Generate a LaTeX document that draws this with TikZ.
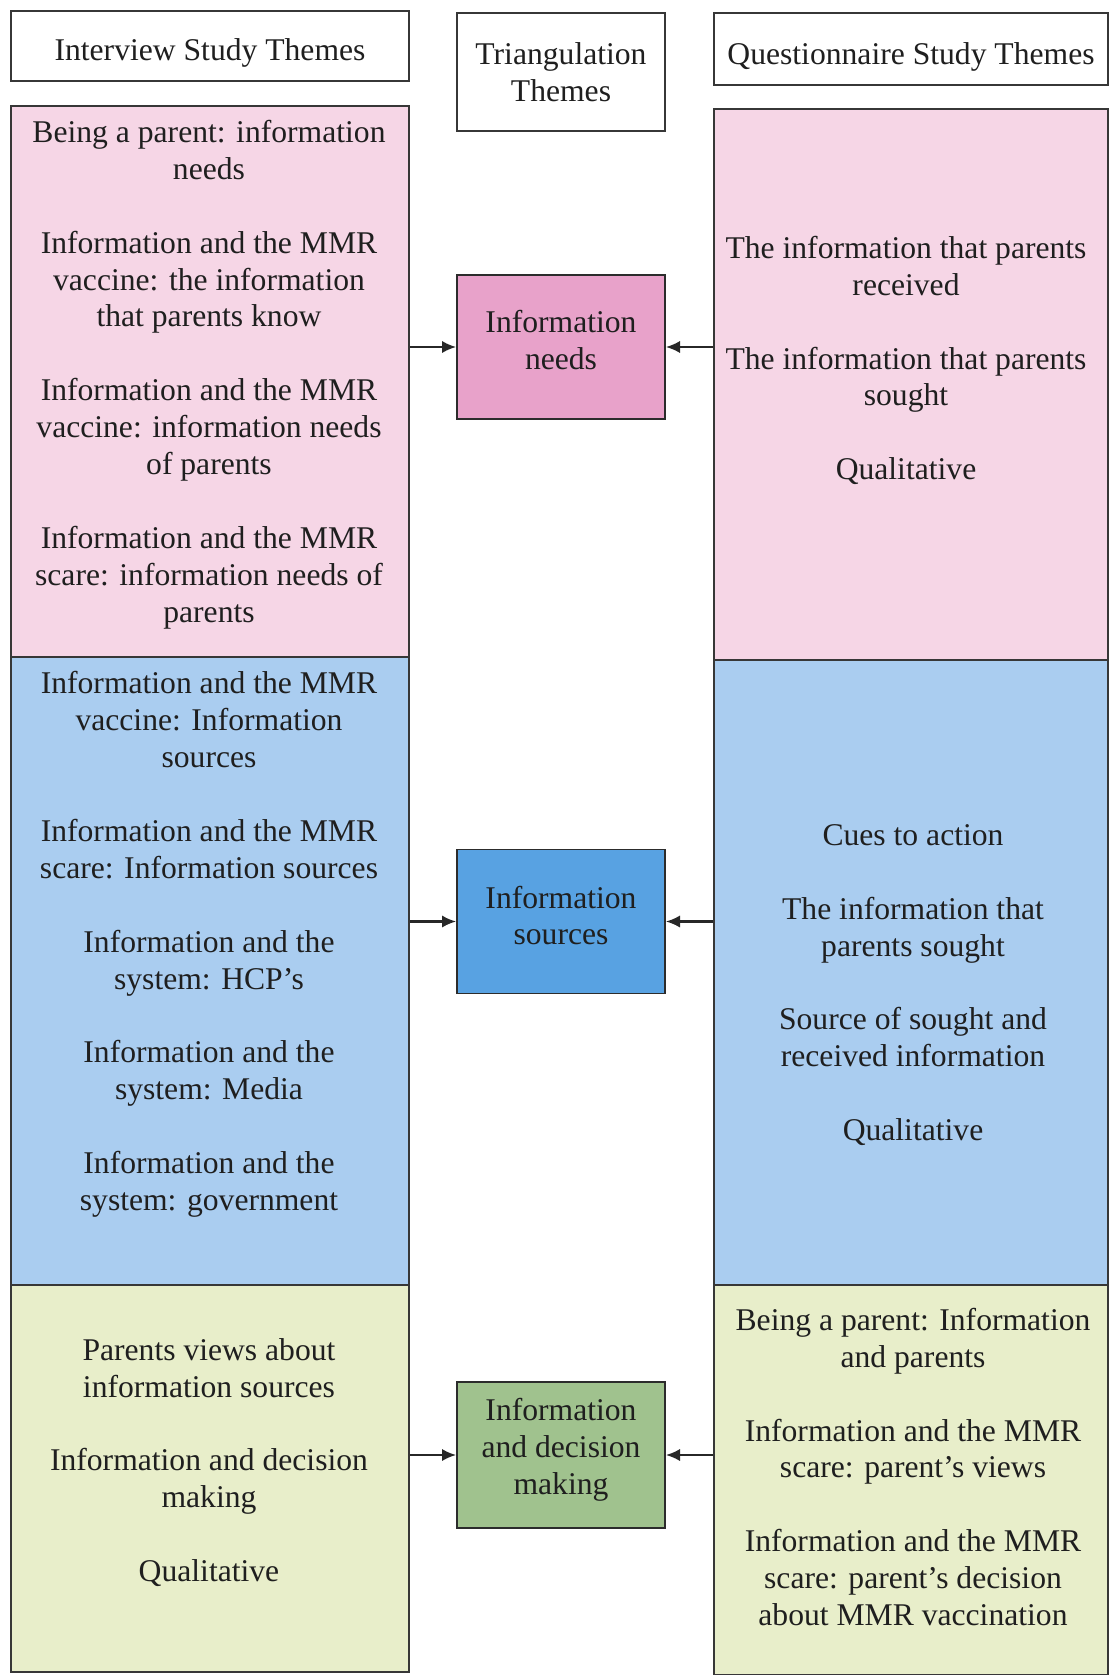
\documentclass[tikz,border=0pt]{standalone}
\usepackage{fontspec}
\setmainfont{Liberation Serif}
\usetikzlibrary{arrows.meta}
\definecolor{bandpink}{RGB}{246,214,230}
\definecolor{bandblue}{RGB}{170,205,240}
\definecolor{bandgreen}{RGB}{232,238,202}
\definecolor{tripink}{RGB}{232,162,202}
\definecolor{triblue}{RGB}{88,162,226}
\definecolor{trigreen}{RGB}{160,194,142}
\definecolor{edge}{RGB}{55,55,55}
\begin{document}
\begin{tikzpicture}[x=0.02cm,y=-0.02cm,
	every node/.style={font=\fontsize{18}{21}\selectfont, text=black!88},
	head/.style={draw=edge, fill=white, line width=0.9pt, align=center},
	band/.style={draw=edge, line width=0.9pt, inner sep=0pt},
	tri/.style={draw=edge!80!black, line width=1.1pt, align=center, minimum width=4.16cm, minimum height=2.88cm},
	txt/.style={align=center, inner sep=0pt},
	link/.style={-{Latex[length=8pt,width=7pt]}, line width=1.2pt, draw=edge!70!black}]
	\useasboundingbox (0,0) rectangle (1110,1675);
	\fill[white] (0,0) rectangle (1110,1675);

	\draw
	node[head, minimum width=7.97cm, minimum height=1.41cm, text height=20pt] at (210,46) (hInt) {Interview Study Themes}
	node[head, minimum width=4.16cm, minimum height=2.36cm] at (561,72) (hTri) {Triangulation\\Themes}
	node[head, minimum width=7.88cm, minimum height=1.44cm, text height=22pt] at (911,49) (hQst) {Questionnaire Study Themes}

	node[band, fill=bandpink, minimum width=7.97cm, minimum height=11.02cm] at (210,381.5) (intA) {}
	node[band, fill=bandblue, minimum width=7.97cm, minimum height=12.56cm] at (210,971) (intB) {}
	node[band, fill=bandgreen, minimum width=7.97cm, minimum height=7.74cm] at (210,1478.5) (intC) {}

	node[band, fill=bandpink, minimum width=7.88cm, minimum height=11.02cm] at (911,384.5) (qstA) {}
	node[band, fill=bandblue, minimum width=7.88cm, minimum height=12.5cm] at (911,972.5) (qstB) {}
	node[band, fill=bandgreen, minimum width=7.88cm, minimum height=7.8cm] at (911,1480) (qstC) {}

	node[tri, fill=tripink, text depth=8pt] at (561,347) (triA) {Information\\needs}
	node[tri, fill=triblue, text depth=7pt] at (561,921.5) (triB) {Information\\sources}
	node[tri, fill=trigreen, minimum height=2.92cm, text depth=10pt] at (561,1455) (triC) {Information\\and decision\\making};

	% interview study themes
	\node[txt] at (209,374.5) (intAtxt) {Being a parent: information\\needs\\[21pt]
		Information and the MMR\\vaccine: the information\\that parents know\\[21pt]
		Information and the MMR\\vaccine: information needs\\of parents\\[21pt]
		Information and the MMR\\scare: information needs of\\parents};
	\node[txt] at (209,944.5) (intBtxt) {Information and the MMR\\vaccine: Information\\sources\\[21pt]
		Information and the MMR\\scare: Information sources\\[21pt]
		Information and the\\system: HCP’s\\[21pt]
		Information and the\\system: Media\\[21pt]
		Information and the\\system: government};
	\node[txt] at (209,1462.5) (intCtxt) {Parents views about\\information sources\\[21pt]
		Information and decision\\making\\[21pt]
		Qualitative};

	% questionnaire study themes
	\node[txt] at (906,360.5) (qstAtxt) {The information that parents\\received\\[21pt]
		The information that parents\\sought\\[21pt]
		Qualitative};
	\node[txt] at (913,985) (qstBtxt) {Cues to action\\[21pt]
		The information that\\parents sought\\[21pt]
		Source of sought and\\received information\\[21pt]
		Qualitative};
	\node[txt] at (913,1467) (qstCtxt) {Being a parent: Information\\and parents\\[21pt]
		Information and the MMR\\scare: parent’s views\\[21pt]
		Information and the MMR\\scare: parent’s decision\\about MMR vaccination};

	\draw[link] (intA.east |- triA.west) -- (triA.west);
	\draw[link] (qstA.west |- triA.east) -- (triA.east);
	\draw[link] (intB.east |- triB.west) -- (triB.west);
	\draw[link] (qstB.west |- triB.east) -- (triB.east);
	\draw[link] (intC.east |- triC.west) -- (triC.west);
	\draw[link] (qstC.west |- triC.east) -- (triC.east);
\end{tikzpicture}
\end{document}
